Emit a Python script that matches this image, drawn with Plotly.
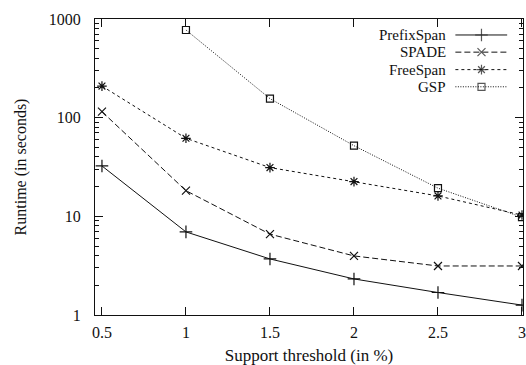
import plotly.graph_objects as go

support = [0.5, 1.0, 1.5, 2.0, 2.5, 3.0]
prefixspan = [32.4, 6.95, 3.7, 2.32, 1.69, 1.26]
spade = [115, 18.2, 6.6, 3.97, 3.14, 3.14]
freespan = [209, 61.8, 31.2, 22.5, 16.1, 10.3]
gsp_support = [1.0, 1.5, 2.0, 2.5, 3.0]
gsp = [774, 156, 52, 19.3, 9.8]

series_names = ["PrefixSpan", "SPADE", "FreeSpan", "GSP"]
x_ticks = [0.5, 1, 1.5, 2, 2.5, 3]
x_tick_text = ["0.5", "1", "1.5", "2", "2.5", "3"]
y_ticks = [1, 10, 100, 1000]
y_tick_text = ["1", "10", "100", "1000"]
y_minor_ticks = [m * d for d in (1, 10, 100) for m in range(2, 10)]

styles = [
    dict(dash="solid", symbol="cross-thin-open", size=9),
    dict(dash="6px,3px", symbol="x-thin-open", size=8),
    dict(dash="3px,3px", symbol="asterisk-open", size=8),
    dict(dash="1px,1.5px", symbol="square-open", size=7),
]
xs = [support, support, support, gsp_support]
ys = [prefixspan, spade, freespan, gsp]

FONT = "Liberation Serif"
fig = go.Figure()
for name, x, y, st in zip(series_names, xs, ys, styles):
    fig.add_trace(go.Scatter(
        x=x, y=y, name=name, mode="lines+markers",
        line=dict(color="#111", width=1, dash=st["dash"]),
        marker=dict(symbol=st["symbol"], size=st["size"], color="#111",
                    line=dict(color="#111", width=1.2)),
        showlegend=False,
    ))

# custom gnuplot-style key (text left, sample right)
key_rows = [0.946, 0.888, 0.829, 0.771]
for name, st, ky in zip(series_names, styles, key_rows):
    fig.add_trace(go.Scatter(
        x=[0.842, 0.903, 0.963], y=[ky, ky, ky], xaxis="x2", yaxis="y2",
        mode="lines+markers", showlegend=False, hoverinfo="skip",
        line=dict(color="#111", width=1, dash=st["dash"]),
        marker=dict(symbol=st["symbol"], size=[0, st["size"], 0], color="#111",
                    line=dict(color="#111", width=1.2)),
    ))
    fig.add_annotation(x=0.822, y=ky, xref="paper", yref="paper", text=name,
                       showarrow=False, xanchor="right", yanchor="middle",
                       borderpad=0,
                       font=dict(family=FONT, size=15, color="#111"))

fig.update_layout(
    width=526, height=365,
    margin=dict(l=95, r=0, t=19, b=50),
    paper_bgcolor="white", plot_bgcolor="white",
    font=dict(family=FONT, size=16, color="#111"),
    xaxis=dict(range=[0.4586, 3.006], tickvals=x_ticks, ticktext=x_tick_text,
               ticks="inside", ticklen=8, tickcolor="#111", showgrid=False,
               zeroline=False, showline=True, linecolor="#111", linewidth=1.2,
               mirror="ticks", tickfont=dict(size=16), ticklabelstandoff=3,
               ticklabeloverflow="allow",
               title=dict(text="Support threshold (in %)", standoff=8,
                          font=dict(family=FONT, size=17))),
    yaxis=dict(type="log", range=[0, 3], tickvals=y_ticks, ticktext=y_tick_text,
               ticks="inside", ticklen=8, tickcolor="#111", showgrid=False,
               zeroline=False, showline=True, linecolor="#111", linewidth=1.2,
               mirror="ticks", tickfont=dict(size=16), ticklabelstandoff=10,
               minor=dict(tickvals=y_minor_ticks, ticks="inside", ticklen=4,
                          tickcolor="#111", showgrid=False),
               title=dict(text="Runtime (in seconds)", standoff=18,
                          font=dict(family=FONT, size=16))),
    xaxis2=dict(overlaying="x", range=[0, 1], visible=False),
    yaxis2=dict(overlaying="y", range=[0, 1], visible=False),
)
fig.write_html("out.html", config={"displayModeBar": False},
               post_script="document.body.style.margin='0';document.body.style.overflow='hidden';")
